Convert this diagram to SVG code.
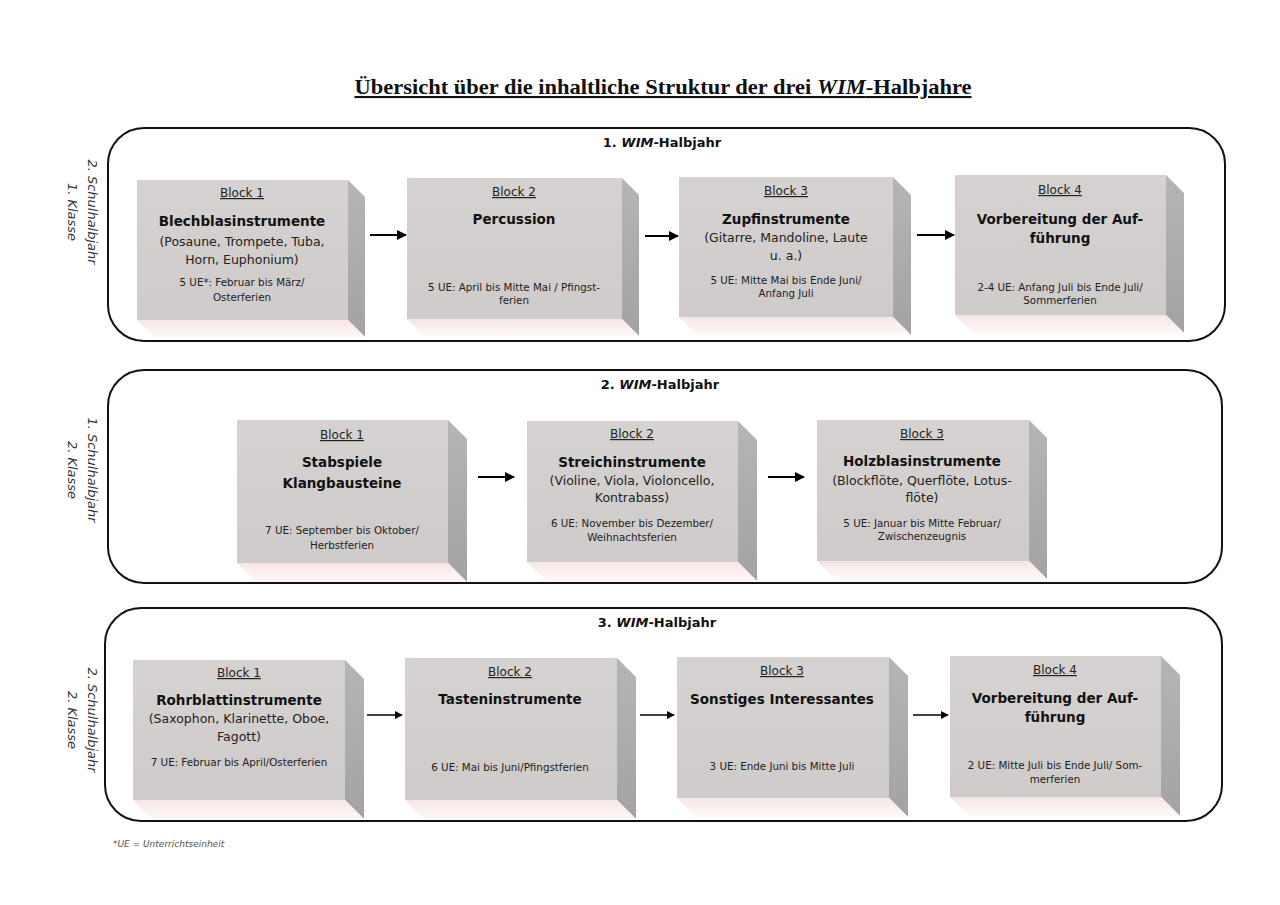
<svg xmlns="http://www.w3.org/2000/svg" width="1280" height="905" viewBox="0 0 1280 905">
<defs>
<linearGradient id="gFront" x1="0" y1="0" x2="0" y2="1"><stop offset="0" stop-color="#d6d2d1"/><stop offset="1" stop-color="#cfcbca"/></linearGradient>
<linearGradient id="gSide" x1="0" y1="0" x2="0" y2="1"><stop offset="0" stop-color="#b6b4b4"/><stop offset="1" stop-color="#a4a2a2"/></linearGradient>
<linearGradient id="gBot" x1="0" y1="0" x2="0" y2="1"><stop offset="0" stop-color="#f6e6e6"/><stop offset="1" stop-color="#fef8f8"/></linearGradient>
<marker id="arr" viewBox="0 0 10 10" refX="9" refY="5" markerWidth="5" markerHeight="5" markerUnits="strokeWidth" orient="auto"><path d="M0,0 L10,5 L0,10 z" fill="#000"/></marker>
</defs>
<style>
.cont{fill:#fff;stroke:#111;stroke-width:2}
.front{fill:url(#gFront)}
.side{fill:url(#gSide)}
.bot{fill:url(#gBot)}
text{font-family:"DejaVu Sans","Verdana",sans-serif;fill:#111;text-anchor:middle}
.blk{font-size:12px;text-decoration:underline;fill:#222}
.hd{font-size:13.5px;font-weight:bold}
.sub{font-size:12.5px;fill:#222}
.ue{font-size:10.3px;fill:#222}
.side-lbl{font-size:13px;font-style:italic;fill:#333}
.ctitle{font-size:13px;font-weight:bold}
.arrow{stroke:#000;stroke-width:2;fill:none;marker-end:url(#arr)}
</style>
<rect width="1280" height="905" fill="#fff"/>
<text x="663" y="94" style="font-family:'Liberation Serif','Times New Roman',serif;font-size:21px;font-weight:bold;text-decoration:underline" textLength="617" lengthAdjust="spacingAndGlyphs">Übersicht über die inhaltliche Struktur der drei <tspan font-style="italic">WIM</tspan>-Halbjahre</text>

<!-- containers -->
<g id="halbjahr1">
<rect class="cont" x="108" y="128" width="1117" height="213" rx="36" ry="36"/>
<text class="ctitle" x="662" y="147">1. <tspan font-style="italic">WIM</tspan>-Halbjahr</text>
<g transform="translate(88,212) rotate(90)"><text class="side-lbl" x="0" y="0">2. Schulhalbjahr</text><text class="side-lbl" x="0" y="20">1. Klasse</text></g>
</g>
<g id="halbjahr2">
<rect class="cont" x="108" y="370" width="1114" height="213" rx="36" ry="36"/>
<text class="ctitle" x="660" y="389">2. <tspan font-style="italic">WIM</tspan>-Halbjahr</text>
<g transform="translate(88,470) rotate(90)"><text class="side-lbl" x="0" y="0">1. Schulhalbjahr</text><text class="side-lbl" x="0" y="20">2. Klasse</text></g>
</g>
<g id="halbjahr3">
<rect class="cont" x="105" y="608" width="1117" height="213" rx="36" ry="36"/>
<text class="ctitle" x="657" y="627">3. <tspan font-style="italic">WIM</tspan>-Halbjahr</text>
<g transform="translate(88,720) rotate(90)"><text class="side-lbl" x="0" y="0">2. Schulhalbjahr</text><text class="side-lbl" x="0" y="20">2. Klasse</text></g>
</g>

<!-- Row 1 -->
<g id="r1b1">
<polygon class="side" points="348,180 365,197 365,337 348,320"/>
<polygon class="bot" points="137,320 348,320 365,337 154,337"/>
<rect class="front" x="137" y="180" width="211" height="140"/>
<text class="blk" x="242" y="197">Block 1</text>
<text class="hd" x="242" y="226">Blechblasinstrumente</text>
<text class="sub" x="242" y="246">(Posaune, Trompete, Tuba,</text>
<text class="sub" x="242" y="264">Horn, Euphonium)</text>
<text class="ue" x="242" y="286">5 UE*: Februar bis März/</text>
<text class="ue" x="242" y="301">Osterferien</text>
</g>
<g id="r1b2">
<polygon class="side" points="622,178 639,195 639,336 622,319"/>
<polygon class="bot" points="407,319 622,319 639,336 424,336"/>
<rect class="front" x="407" y="178" width="215" height="141"/>
<text class="blk" x="514" y="196">Block 2</text>
<text class="hd" x="514" y="224">Percussion</text>
<text class="ue" x="514" y="291">5 UE: April bis Mitte Mai / Pfingst-</text>
<text class="ue" x="514" y="304">ferien</text>
</g>
<g id="r1b3">
<polygon class="side" points="893,177 911,195 911,335 893,317"/>
<polygon class="bot" points="679,317 893,317 911,335 697,335"/>
<rect class="front" x="679" y="177" width="214" height="140"/>
<text class="blk" x="786" y="195">Block 3</text>
<text class="hd" x="786" y="224">Zupfinstrumente</text>
<text class="sub" x="786" y="242">(Gitarre, Mandoline, Laute</text>
<text class="sub" x="786" y="260">u. a.)</text>
<text class="ue" x="786" y="284">5 UE: Mitte Mai bis Ende Juni/</text>
<text class="ue" x="786" y="297">Anfang Juli</text>
</g>
<g id="r1b4">
<polygon class="side" points="1166,175 1184,193 1184,333 1166,315"/>
<polygon class="bot" points="955,315 1166,315 1184,333 973,333"/>
<rect class="front" x="955" y="175" width="211" height="140"/>
<text class="blk" x="1060" y="194">Block 4</text>
<text class="hd" x="1060" y="224">Vorbereitung der Auf-</text>
<text class="hd" x="1060" y="243">führung</text>
<text class="ue" x="1060" y="291">2-4 UE: Anfang Juli bis Ende Juli/</text>
<text class="ue" x="1060" y="304">Sommerferien</text>
</g>

<!-- Row 2 -->
<g id="r2b1">
<polygon class="side" points="448,420 467,439 467,582 448,563"/>
<polygon class="bot" points="237,563 448,563 467,582 256,582"/>
<rect class="front" x="237" y="420" width="211" height="143"/>
<text class="blk" x="342" y="439">Block 1</text>
<text class="hd" x="342" y="467">Stabspiele</text>
<text class="hd" x="342" y="488">Klangbausteine</text>
<text class="ue" x="342" y="534">7 UE: September bis Oktober/</text>
<text class="ue" x="342" y="549">Herbstferien</text>
</g>
<g id="r2b2">
<polygon class="side" points="738,421 757,440 757,581 738,562"/>
<polygon class="bot" points="527,562 738,562 757,581 546,581"/>
<rect class="front" x="527" y="421" width="211" height="141"/>
<text class="blk" x="632" y="438">Block 2</text>
<text class="hd" x="632" y="467">Streichinstrumente</text>
<text class="sub" x="632" y="485">(Violine, Viola, Violoncello,</text>
<text class="sub" x="632" y="502">Kontrabass)</text>
<text class="ue" x="632" y="527">6 UE: November bis Dezember/</text>
<text class="ue" x="632" y="541">Weihnachtsferien</text>
</g>
<g id="r2b3">
<polygon class="side" points="1029,420 1047,438 1047,579 1029,561"/>
<polygon class="bot" points="817,561 1029,561 1047,579 835,579"/>
<rect class="front" x="817" y="420" width="212" height="141"/>
<text class="blk" x="922" y="438">Block 3</text>
<text class="hd" x="922" y="466">Holzblasinstrumente</text>
<text class="sub" x="922" y="485">(Blockflöte, Querflöte, Lotus-</text>
<text class="sub" x="922" y="502">flöte)</text>
<text class="ue" x="922" y="527">5 UE: Januar bis Mitte Februar/</text>
<text class="ue" x="922" y="540">Zwischenzeugnis</text>
</g>

<!-- Row 3 -->
<g id="r3b1">
<polygon class="side" points="345,660 364,679 364,819 345,800"/>
<polygon class="bot" points="133,800 345,800 364,819 152,819"/>
<rect class="front" x="133" y="660" width="212" height="140"/>
<text class="blk" x="239" y="677">Block 1</text>
<text class="hd" x="239" y="705">Rohrblattinstrumente</text>
<text class="sub" x="239" y="723">(Saxophon, Klarinette, Oboe,</text>
<text class="sub" x="239" y="741">Fagott)</text>
<text class="ue" x="239" y="766">7 UE: Februar bis April/Osterferien</text>
</g>
<g id="r3b2">
<polygon class="side" points="617,658 636,677 636,819 617,800"/>
<polygon class="bot" points="405,800 617,800 636,819 424,819"/>
<rect class="front" x="405" y="658" width="212" height="142"/>
<text class="blk" x="510" y="676">Block 2</text>
<text class="hd" x="510" y="704">Tasteninstrumente</text>
<text class="ue" x="510" y="771">6 UE: Mai bis Juni/Pfingstferien</text>
</g>
<g id="r3b3">
<polygon class="side" points="889,657 908,676 908,817 889,798"/>
<polygon class="bot" points="677,798 889,798 908,817 696,817"/>
<rect class="front" x="677" y="657" width="212" height="141"/>
<text class="blk" x="782" y="675">Block 3</text>
<text class="hd" x="782" y="704">Sonstiges Interessantes</text>
<text class="ue" x="782" y="770">3 UE: Ende Juni bis Mitte Juli</text>
</g>
<g id="r3b4">
<polygon class="side" points="1161,656 1180,675 1180,816 1161,797"/>
<polygon class="bot" points="950,797 1161,797 1180,816 969,816"/>
<rect class="front" x="950" y="656" width="211" height="141"/>
<text class="blk" x="1055" y="674">Block 4</text>
<text class="hd" x="1055" y="703">Vorbereitung der Auf-</text>
<text class="hd" x="1055" y="722">führung</text>
<text class="ue" x="1055" y="769">2 UE: Mitte Juli bis Ende Juli/ Som-</text>
<text class="ue" x="1055" y="783">merferien</text>
</g>

<g id="connectors">
<line class="arrow" x1="370" y1="235" x2="406" y2="235"/>
<line class="arrow" x1="645" y1="236" x2="678" y2="236"/>
<line class="arrow" x1="917" y1="235" x2="954" y2="235"/>
<line class="arrow" x1="478" y1="477" x2="514" y2="477"/>
<line class="arrow" x1="768" y1="477" x2="804" y2="477"/>
<line class="arrow" x1="367" y1="715" x2="402" y2="715" style="stroke-width:1.6"/>
<line class="arrow" x1="640" y1="715" x2="674" y2="715" style="stroke-width:1.6"/>
<line class="arrow" x1="913" y1="715" x2="948" y2="715" style="stroke-width:1.6"/>
</g>

<text x="113" y="847" style="font-size:9px;font-style:italic;fill:#555;text-anchor:start">*UE = Unterrichtseinheit</text>
</svg>
